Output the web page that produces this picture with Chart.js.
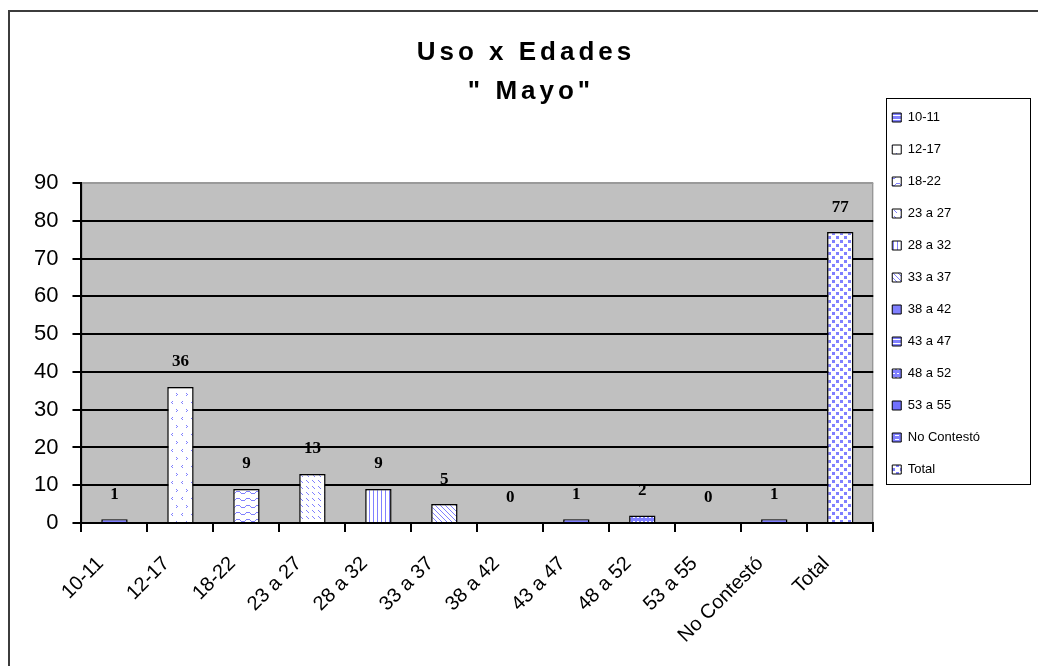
<!DOCTYPE html>
<html>
<head>
<meta charset="utf-8">
<script src="https://cdn.jsdelivr.net/npm/chart.js@4.4.1/dist/chart.umd.min.js"></script>
<style>
  html, body { margin: 0; padding: 0; background: #fff; }
  #wrap { width: 1038px; height: 666px; }
</style>
</head>
<body>
<div id="wrap"><canvas id="usoChart" width="1038" height="666"></canvas></div>
<script>
const categories = ['10-11', '12-17', '18-22', '23 a 27', '28 a 32', '33 a 37', '38 a 42', '43 a 47', '48 a 52', '53 a 55', 'No Contestó', 'Total'];
const usos = [1, 36, 9, 13, 9, 5, 0, 1, 2, 0, 1, 77];
const titleLines = ['Uso x Edades', '" Mayo"'];
const yMax = 90;
const yStep = 10;

const BLUE = '#8080ff';
const ctx = document.getElementById('usoChart').getContext('2d');

// little tiles for the excel style fill patterns
function tile(w, h, bg, draw) {
    const c = document.createElement('canvas');
    c.width = w; c.height = h;
    const g = c.getContext('2d');
    g.fillStyle = bg;
    g.fillRect(0, 0, w, h);
    g.fillStyle = BLUE;
    draw(g);
    return ctx.createPattern(c, 'repeat');
}
const patterns = [
    tile(1, 4, BLUE, g => { g.fillStyle = '#fff'; g.fillRect(0, 3, 1, 1); }),
    tile(10, 16, '#fff', g => {
        g.fillRect(2, 1, 1, 1); g.fillRect(1, 2, 1, 1); g.fillRect(2, 3, 1, 1);
        g.fillRect(6, 9, 1, 1); g.fillRect(7, 10, 1, 1); g.fillRect(6, 11, 1, 1);
    }),
    tile(10, 7, '#fff', g => {
        for (let x = 0; x < 10; x++) {
            const y = Math.round(2 + 1.5 * Math.sin(x / 10 * Math.PI * 2));
            g.fillRect(x, y, 1, 1);
        }
    }),
    tile(12, 12, '#fff', g => {
        for (let t = 0; t < 3; t++) {
            g.fillRect(t, t, 1, 1); g.fillRect(t + 6, t + 6, 1, 1);
            g.fillRect(t + 6, t, 1, 1); g.fillRect(t, t + 6, 1, 1);
        }
    }),
    tile(4, 1, '#fff', g => { g.fillRect(1, 0, 1, 1); }),
    tile(5, 5, '#fff', g => { for (let i = 0; i < 5; i++) g.fillRect(i, i, 1, 1); }),
    BLUE,
    tile(1, 4, BLUE, g => { g.fillStyle = '#fff'; g.fillRect(0, 3, 1, 1); }),
    tile(4, 4, BLUE, g => { g.fillStyle = '#fff'; g.fillRect(1, 1, 2, 1); }),
    '#7070ff',
    tile(6, 4, BLUE, g => { g.fillStyle = '#fff'; g.fillRect(1, 3, 4, 1); }),
    tile(8, 8, '#fff', g => { g.fillRect(0, 0, 3, 3); g.fillRect(4, 4, 3, 3); })
];

const plotBg = {
    id: 'plotBg',
    beforeDraw(chart) {
        const a = chart.chartArea, c = chart.ctx;
        c.save();
        c.fillStyle = '#ffffff';
        c.fillRect(0, 0, chart.width, chart.height);
        c.fillStyle = '#c0c0c0';
        c.fillRect(a.left, a.top, a.right - a.left, a.bottom - a.top);
        c.strokeStyle = '#8a8a8a';
        c.lineWidth = 1;
        c.strokeRect(a.left + 0.5, a.top + 0.5, a.right - a.left - 1, a.bottom - a.top);
        c.restore();
        // legend sits higher than the plot in the original
        chart.legend.top = 92;
    }
};

const extras = {
    id: 'extras',
    afterDatasetsDraw(chart) {
        const c = chart.ctx;
        c.save();
        c.font = 'bold 17px "Liberation Serif"';
        c.fillStyle = '#000';
        c.textAlign = 'center';
        c.textBaseline = 'middle';
        chart.getDatasetMeta(0).data.forEach((bar, i) => {
            c.fillText(String(usos[i]), bar.x, bar.y - 25);
        });
        c.restore();
    },
    afterDraw(chart) {
        const c = chart.ctx;
        c.save();
        // outer frame (only left + top visible)
        c.strokeStyle = '#3c3c3c';
        c.lineWidth = 2;
        c.beginPath();
        c.moveTo(9, 666); c.lineTo(9, 11); c.lineTo(1038, 11);
        c.stroke();
        // title
        c.fillStyle = '#000';
        c.font = 'bold 26px "Liberation Sans"';
        c.letterSpacing = '4px';
        c.textAlign = 'center';
        c.textBaseline = 'middle';
        c.fillText(titleLines[0], 526, 53);
        c.fillText(titleLines[1], 531, 92);
        c.letterSpacing = '0px';
        // legend frame
        const lg = chart.legend;
        c.strokeStyle = '#000';
        c.lineWidth = 1;
        c.strokeRect(Math.round(lg.left) + 13.5, 98.5, 144, 386);
        c.restore();
    }
};

const chart = new Chart(ctx, {
    type: 'bar',
    data: {
        labels: categories,
        datasets: [{
            label: 'Uso',
            data: usos,
            backgroundColor: patterns,
            borderColor: '#000',
            borderWidth: 1.5,
            borderSkipped: 'start',
            barPercentage: 0.4,
            categoryPercentage: 1
        }]
    },
    plugins: [plotBg, extras],
    options: {
        responsive: false,
        animation: false,
        layout: {
            padding: { left: 20, top: 183, right: 48, bottom: 0 }
        },
        plugins: {
            title: { display: false },
            tooltip: { enabled: false },
            legend: {
                display: true,
                position: 'right',
                align: 'start',
                labels: {
                    boxWidth: 9,
                    boxHeight: 9,
                    padding: 19,
                    color: '#000',
                    font: { family: 'Liberation Sans', size: 13 },
                    generateLabels: () => categories.map((cat, i) => ({
                        text: cat,
                        fillStyle: patterns[i],
                        strokeStyle: '#000',
                        lineWidth: 1,
                        hidden: false,
                        index: i,
                        datasetIndex: 0
                    }))
                }
            }
        },
        scales: {
            x: {
                // room under the plot as in the original
                afterFit: scale => { scale.height = 143; },
                grid: {
                    offset: true,
                    drawOnChartArea: false,
                    tickLength: 9,
                    tickColor: '#000',
                    lineWidth: 2
                },
                border: { color: '#000', width: 2 },
                ticks: {
                    color: '#000',
                    autoSkip: false,
                    minRotation: 45,
                    maxRotation: 45,
                    padding: 20,
                    labelOffset: -14,
                    font: { family: 'Liberation Sans', size: 20 }
                }
            },
            y: {
                min: 0,
                max: yMax,
                grid: {
                    color: c => c.tick && c.tick.value === yMax ? '#9a9a9a' : '#000',
                    tickColor: '#000',
                    tickLength: 9,
                    lineWidth: 2
                },
                border: { color: '#000', width: 2 },
                ticks: {
                    stepSize: yStep,
                    color: '#000',
                    padding: 14,
                    font: { family: 'Liberation Sans', size: 22 }
                }
            }
        }
    }
});
</script>
</body>
</html>
